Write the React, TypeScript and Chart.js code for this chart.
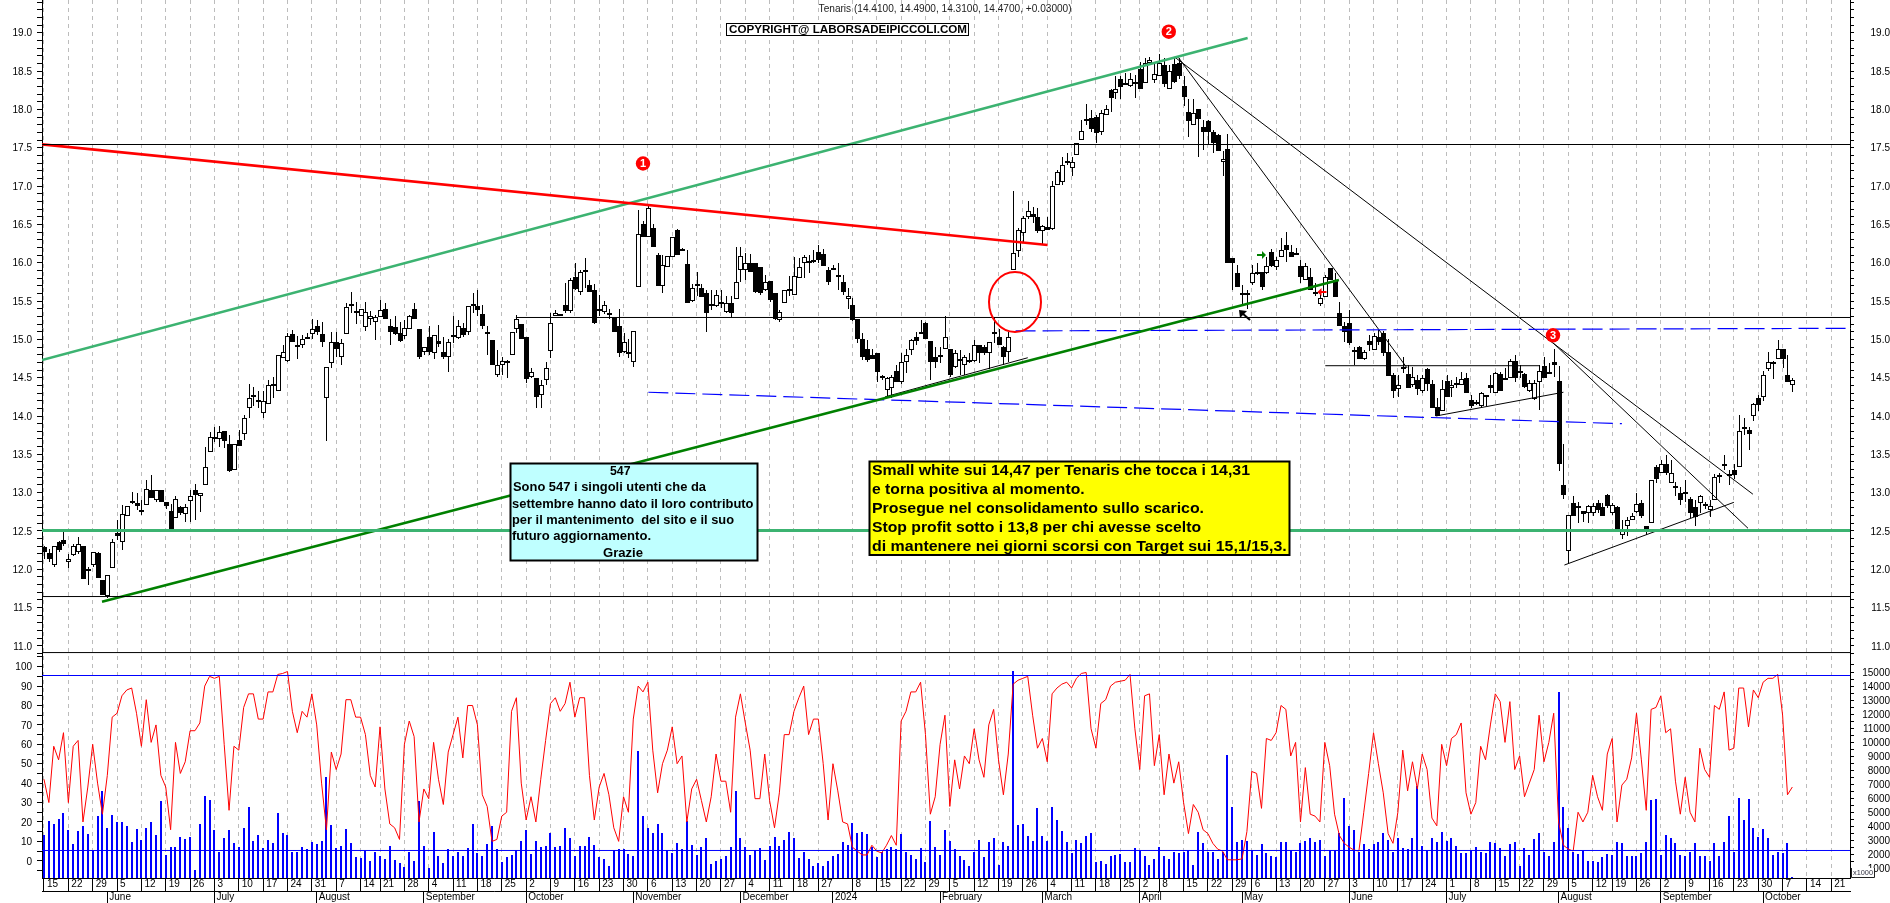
import React, { useEffect, useRef } from "react";
import { Chart, registerables } from "chart.js";

Chart.register(...registerables);

const opens = [
12.29,12.21,12.06,12.36,12.38,12.09,12.19,12.22,12.30,12.01,
12.05,12.21,11.86,11.65,12.02,12.47,12.36,12.69,12.87,12.86,
12.77,12.84,13.04,12.90,13.04,12.88,12.76,12.67,12.81,12.72,
12.89,13.04,12.96,13.10,13.53,13.72,13.70,13.80,13.63,13.30,
13.69,13.77,14.10,14.27,14.21,14.04,14.16,14.42,14.32,14.76,
14.72,15.07,14.93,14.92,15.03,15.07,15.18,15.07,14.24,14.69,
14.97,14.77,15.07,15.46,15.35,15.31,15.16,15.27,15.23,15.29,
15.40,15.17,15.16,15.08,15.05,15.13,15.40,15.13,14.83,15.03,
14.82,14.98,14.84,14.77,15.06,15.02,15.15,15.09,15.46,15.43,
15.33,15.10,14.99,14.53,14.66,14.72,14.80,15.13,15.20,15.03,
14.51,14.49,14.28,14.47,14.85,15.30,15.33,15.45,15.37,15.81,
15.62,15.90,15.71,15.64,15.40,15.36,15.33,15.28,15.17,14.84,
14.84,14.70,15.68,16.51,16.33,16.45,16.10,15.69,15.95,16.08,
16.42,16.16,15.98,15.50,15.72,15.67,15.60,15.46,15.43,15.49,
15.36,15.47,15.53,15.91,15.91,15.99,15.99,15.94,15.64,15.76,
15.60,15.25,15.47,15.66,15.58,15.80,16.00,16.02,16.03,16.14,
16.11,15.90,15.93,15.84,15.75,15.52,15.45,15.27,15.00,14.87,
14.80,14.82,14.52,14.34,14.36,14.59,14.45,14.71,14.86,15.03,
15.10,15.21,14.98,14.77,14.80,14.87,14.88,14.64,14.74,14.66,
14.73,14.72,14.92,14.90,14.82,15.09,15.03,14.90,14.83,15.91,
16.15,16.39,16.59,16.64,16.60,16.41,16.47,16.44,17.01,17.05,
17.33,17.23,17.41,17.60,17.88,17.89,17.90,17.71,17.93,18.25,
18.21,18.40,18.34,18.31,18.36,18.53,18.34,18.60,18.38,18.44,
18.58,18.27,18.59,18.61,18.30,17.97,17.80,18.00,17.77,17.85,
17.70,17.66,17.31,17.48,16.06,15.86,15.61,15.58,15.73,15.88,
15.88,15.86,16.14,15.94,16.07,16.23,16.14,16.12,15.96,15.78,
15.81,15.62,15.46,15.55,15.93,15.78,15.35,15.17,15.21,14.83,
14.90,14.75,14.98,14.86,15.03,15.08,14.84,14.54,14.35,14.64,
14.55,14.40,14.47,14.32,14.61,14.42,14.12,14.06,14.46,14.36,
14.43,14.41,14.49,14.21,14.18,14.13,14.26,14.40,14.30,14.55,
14.50,14.50,14.72,14.59,14.55,14.32,14.22,14.45,14.65,14.57,
14.70,14.46,13.10,12.24,12.87,12.81,12.76,12.74,12.74,12.87,
12.81,12.97,12.73,12.81,12.45,12.57,12.64,12.75,12.86,12.57,
12.60,13.34,13.26,13.38,13.13,13.09,12.99,13.01,12.92,12.81,
12.87,12.85,12.77,12.91,13.21,13.36,13.24,13.30,13.34,13.86,
13.82,14.00,14.23,14.25,14.61,14.71,14.74,14.88,14.53,14.41,
];

const highs = [
12.30,12.27,12.31,12.37,12.50,12.20,12.33,12.42,12.30,12.03,
12.23,12.22,11.86,11.93,12.40,12.64,12.84,12.82,13.01,13.00,
12.90,13.17,13.23,13.04,13.04,12.88,12.85,12.95,12.83,12.85,
13.03,13.11,13.00,13.59,13.79,13.86,13.87,13.81,13.75,13.64,
13.82,14.01,14.42,14.38,14.32,14.33,14.47,14.51,14.80,14.93,
15.08,15.12,15.05,15.06,15.08,15.27,15.25,15.23,14.64,15.09,
15.09,15.00,15.47,15.62,15.49,15.39,15.49,15.37,15.32,15.51,
15.47,15.27,15.30,15.23,15.25,15.32,15.47,15.13,14.90,15.17,
15.06,15.19,15.03,15.00,15.30,15.25,15.21,15.44,15.61,15.65,
15.45,15.17,14.99,14.86,14.77,14.73,15.09,15.32,15.20,15.03,
14.62,14.49,14.47,14.70,15.34,15.38,15.33,15.73,15.80,16.00,
15.91,16.06,15.78,15.72,15.58,15.50,15.40,15.28,15.39,15.08,
15.01,15.11,16.69,16.55,16.75,16.51,16.13,16.10,16.09,16.33,
16.44,16.19,16.17,15.72,15.88,15.72,15.64,15.64,15.64,15.64,
15.57,15.56,16.20,16.20,16.12,16.11,15.99,15.94,15.84,15.76,
15.60,15.38,15.65,15.83,16.08,16.06,16.10,16.10,16.16,16.23,
16.18,15.95,15.97,15.99,15.84,15.67,15.54,15.27,15.08,14.99,
14.88,14.82,14.54,14.51,14.53,14.67,14.82,14.88,15.00,15.10,
15.25,15.23,14.98,14.90,14.90,15.30,14.88,14.86,14.86,14.80,
14.82,14.99,14.93,14.93,14.96,15.29,15.14,14.91,15.10,16.94,
16.45,16.61,16.80,16.73,16.71,16.49,16.60,17.06,17.21,17.38,
17.43,17.38,17.56,17.86,18.07,17.99,17.92,17.99,18.06,18.26,
18.43,18.43,18.47,18.47,18.45,18.62,18.67,18.68,18.60,18.72,
18.67,18.58,18.68,18.67,18.43,18.14,18.14,18.00,17.86,17.86,
17.73,17.68,17.46,17.68,16.06,15.97,15.71,15.65,15.97,16.00,
15.88,16.08,16.18,16.08,16.32,16.40,16.23,16.19,16.04,15.99,
15.93,15.73,15.62,15.84,15.93,15.86,15.49,15.22,15.38,14.90,
14.91,14.86,15.06,15.08,15.12,15.11,15.01,14.56,14.53,14.77,
14.67,14.64,14.53,14.53,14.62,14.47,14.23,14.47,14.53,14.47,
14.51,14.58,14.56,14.28,14.21,14.31,14.28,14.53,14.58,14.58,
14.62,14.75,14.80,14.67,14.56,14.47,14.47,14.67,14.77,14.69,
14.87,14.65,13.63,12.71,12.95,12.88,12.76,12.84,12.86,12.90,
12.86,12.98,12.86,12.82,12.64,12.68,12.73,13.00,12.90,12.57,
13.17,13.36,13.42,13.49,13.42,13.14,13.08,13.16,12.94,12.90,
12.97,12.88,12.90,13.24,13.25,13.49,13.30,13.38,14.01,13.98,
13.86,14.17,14.27,14.59,14.84,14.72,14.99,14.88,14.79,14.49,
];

const lows = [
12.14,12.10,12.03,12.22,12.30,12.02,12.17,12.20,11.88,11.80,
12.03,11.89,11.67,11.63,12.02,12.38,12.25,12.69,12.85,12.77,
12.71,12.84,12.93,12.88,12.88,12.79,12.52,12.67,12.71,12.62,
12.62,12.64,12.75,13.10,13.53,13.66,13.60,13.58,13.27,13.30,
13.61,13.69,13.98,14.13,14.10,13.98,14.16,14.23,14.32,14.76,
14.70,14.96,14.74,14.89,15.00,15.01,15.06,14.90,13.68,14.62,
14.77,14.67,15.07,15.34,15.20,15.31,15.11,15.19,14.99,15.29,
15.26,14.93,15.06,14.97,15.00,15.13,15.27,14.75,14.80,14.80,
14.75,14.90,14.75,14.58,14.95,15.00,15.03,15.06,15.34,15.30,
15.14,14.80,14.67,14.51,14.53,14.50,14.80,15.08,15.00,14.43,
14.49,14.11,14.11,14.40,14.76,15.30,15.30,15.35,15.35,15.64,
15.58,15.67,15.62,15.20,15.30,15.33,15.27,15.10,14.77,14.82,
14.76,14.64,15.68,16.33,16.33,16.20,15.69,15.60,15.95,16.08,
16.10,16.15,15.47,15.49,15.56,15.55,15.10,15.38,15.42,15.41,
15.35,15.29,15.53,15.75,15.78,15.88,15.61,15.58,15.63,15.49,
15.25,15.23,15.47,15.56,15.58,15.80,15.80,15.86,15.99,15.99,
15.96,15.71,15.90,15.64,15.58,15.40,15.24,14.95,14.73,14.70,
14.74,14.44,14.47,14.25,14.23,14.44,14.42,14.56,14.80,14.93,
15.07,15.00,14.47,14.62,14.69,14.87,14.51,14.62,14.53,14.53,
14.69,14.71,14.69,14.80,14.61,14.95,14.93,14.67,14.70,15.91,
16.08,16.27,16.57,16.52,16.39,16.25,16.42,16.43,17.01,17.01,
17.27,17.13,17.41,17.60,17.80,17.71,17.56,17.67,17.93,17.97,
18.14,18.14,18.32,18.29,18.15,18.26,18.34,18.60,18.34,18.44,
18.29,18.27,18.34,18.40,18.04,17.64,17.80,17.38,17.47,17.53,
17.43,17.46,17.13,15.99,15.64,15.68,15.45,15.40,15.71,15.84,
15.64,15.85,15.95,15.90,16.07,16.01,16.07,16.10,15.73,15.78,
15.65,15.56,15.43,15.55,15.78,15.55,15.18,14.97,14.93,14.67,
14.75,14.73,14.85,14.86,14.93,14.78,14.52,14.24,14.25,14.56,
14.37,14.38,14.27,14.30,14.32,14.10,14.00,14.06,14.25,14.25,
14.37,14.40,14.30,14.10,14.14,14.10,14.13,14.30,14.30,14.32,
14.47,14.49,14.45,14.49,14.37,14.31,14.21,14.08,14.50,14.55,
14.51,13.28,12.92,12.08,12.69,12.60,12.62,12.60,12.69,12.74,
12.69,12.80,12.71,12.51,12.40,12.43,12.64,12.73,12.67,12.45,
12.60,13.12,13.26,13.23,13.13,12.95,12.84,12.88,12.67,12.57,
12.74,12.79,12.68,12.90,13.12,13.29,13.10,13.18,13.34,13.75,
13.56,13.93,14.06,14.19,14.59,14.48,14.74,14.62,14.45,14.31,
];

const closes = [
12.22,12.14,12.30,12.25,12.33,12.13,12.30,12.33,11.88,11.99,
12.22,11.89,11.67,11.92,12.35,12.44,12.72,12.82,12.89,12.82,
12.75,13.05,12.93,13.03,12.88,12.82,12.52,12.92,12.74,12.81,
12.96,12.97,13.00,13.34,13.72,13.70,13.79,13.68,13.28,13.64,
13.61,13.98,14.24,14.25,14.19,14.20,14.41,14.40,14.80,14.84,
15.05,14.96,14.92,15.01,15.01,15.13,15.09,14.96,14.64,14.96,
14.88,14.95,15.42,15.44,15.37,15.39,15.36,15.30,15.29,15.38,
15.26,15.10,15.07,14.98,15.15,15.30,15.27,14.77,14.90,14.83,
15.06,14.94,14.77,14.97,15.03,15.17,15.06,15.44,15.44,15.38,
15.17,15.08,14.67,14.67,14.72,14.70,15.09,15.26,15.00,14.48,
14.58,14.25,14.41,14.63,15.21,15.35,15.30,15.37,15.77,15.66,
15.88,15.88,15.62,15.21,15.38,15.45,15.35,15.10,14.82,14.96,
14.83,15.11,16.37,16.33,16.71,16.20,15.69,15.97,16.09,16.33,
16.10,16.18,15.48,15.67,15.70,15.55,15.34,15.44,15.58,15.46,
15.48,15.34,15.75,16.09,15.99,15.88,15.62,15.60,15.75,15.51,
15.27,15.36,15.64,15.64,15.82,15.94,16.08,16.00,16.02,16.03,
15.96,15.75,15.91,15.82,15.62,15.57,15.25,15.01,14.77,14.73,
14.74,14.58,14.50,14.50,14.51,14.44,14.71,14.79,14.99,14.98,
15.08,15.00,14.70,14.71,14.78,15.03,14.53,14.82,14.72,14.77,
14.71,14.93,14.82,14.82,14.96,15.07,14.93,14.77,15.03,16.12,
16.42,16.58,16.68,16.59,16.41,16.48,16.43,17.00,17.18,17.27,
17.31,17.31,17.56,17.72,17.87,17.74,17.69,17.95,18.00,18.15,
18.26,18.29,18.33,18.40,18.35,18.27,18.61,18.64,18.46,18.60,
18.33,18.50,18.36,18.44,18.16,17.85,17.95,17.88,17.71,17.70,
17.56,17.46,17.35,15.99,15.99,15.68,15.59,15.60,15.87,15.86,
15.68,15.96,15.96,16.03,16.16,16.16,16.08,16.10,15.81,15.96,
15.65,15.60,15.54,15.81,15.78,15.55,15.18,15.10,14.95,14.86,
14.75,14.83,14.92,15.04,14.96,14.82,14.52,14.32,14.40,14.62,
14.37,14.51,14.35,14.50,14.42,14.10,14.00,14.35,14.25,14.40,
14.41,14.48,14.30,14.13,14.16,14.30,14.28,14.37,14.56,14.32,
14.49,14.72,14.50,14.57,14.38,14.43,14.43,14.59,14.50,14.55,
14.66,13.38,12.97,12.71,12.69,12.82,12.72,12.82,12.83,12.77,
12.70,12.82,12.84,12.52,12.51,12.64,12.69,12.85,12.70,12.51,
13.17,13.18,13.38,13.26,13.26,13.07,12.90,12.99,12.74,12.68,
12.95,12.83,12.82,13.21,13.23,13.38,13.22,13.23,13.81,13.84,
13.76,14.16,14.14,14.54,14.70,14.69,14.88,14.74,14.45,14.47,
];

const stochastic = [
42,30,59,52,66,30,59,62,20,38,
60,40,24,44,74,76,85,88,89,76,
59,83,61,70,44,38,16,61,45,51,
67,67,71,90,95,94,95,60,26,59,
57,79,86,86,73,73,87,87,96,96.5,
97.5,77,66,77,74,86,70,40,16,56,
47,55,83,83,74,74,65,44,38,69,
37,19,17,11,60,72,64,20,37,32,
61,42,29,56,65,74,53,80,80,70,
34,28,10,11,23,25,77,84,40,21,
33,20,42,62,81,84,77,81,92,74,
84,84,44,21,38,45,34,17,10,33,
25,73,90,87,92,57,35,50,57,69,
50,54,20,37,42,31,20,33,55,41,
41,25,74,86,71,57,32,32,55,31,
17,35,65,65,77,84,90,65,73,73,
50,21,50,36,20,19,7,5,3,3,
8,5,4,8,13,8,72,77,87,87,
92,65,24,33,60,75,28,52,37,54,
50,68,52,43,70,78,52,34,55,91,
93,94,95,75,58,63,51,86,89,91,
92,89,94,96.5,97,68,58,81,83,90,
92,92.5,93,96,68,47,85,86,49,65,
34,55,40,51,30,14,29,25,16,14,
9,6,5,0.5,0.5,0.5,1,15,46,45,
27,63,62,66,80,78,54,61,20,48,
24,23,20,61,49,24,13,9,7,5.5,
5,25,45,66,50,35,14,9,25,57,
36,51,37,55,47,22,18,60,49,63,
65,71,35,24,30,59,52,70,86,82,
61,82,47,54,33,40,47,75,51,61,
76,20,8,6,5,25,20,25,44,33,
26,55,63,20,39,42,53,76,52,26,
78,79,85,66,68,41,24,43,25,20,
58,47,43,80,78,87,57,58,89,89,
69,88,84,92,94,94,96,75,34,38,
];

const volumes = [
3390,4430,4150,4530,4950,3790,2730,3650,4010,3460,
2280,4760,6520,3890,4790,4310,4310,4030,2920,3820,
3030,3930,4310,3370,5810,1940,2540,2540,3290,3100,
3250,900,4170,6160,5880,3790,2180,3200,3790,2820,
2510,3890,5360,2940,3370,2440,3030,2820,4950,3510,
3390,2160,2180,2540,2420,2890,2730,2940,7540,4100,
2440,2610,3820,2820,1820,1750,2280,1540,2160,1900,
1710,2610,1610,1420,1140,2160,1560,5810,2610,1040,
3600,1900,1400,2390,1900,2180,1900,2460,4170,2090,
1900,2750,4030,2390,1470,1820,1970,2320,2960,3790,
2040,2960,2510,2610,3510,2560,2610,3890,3180,1900,
2610,2610,3250,2680,1820,1680,1190,2320,2370,2370,
2040,1900,9390,4760,3890,3560,4150,3510,2320,2130,
2820,2390,4360,2680,2010,2580,3150,1370,1540,1710,
1900,2540,6520,3150,2510,1970,2320,2460,1610,2610,
3250,2610,3030,3580,3180,1730,2180,1680,1190,1420,
1160,1540,1900,2040,2890,2680,4240,3560,3600,3440,
2540,1820,2180,2390,2540,2390,3440,2180,1970,1680,
2460,1450,4430,2540,2010,3790,2940,2370,1870,1590,
1190,2180,3030,1820,2890,3180,1260,2870,2610,15050,
4100,4170,3320,2940,5310,3320,2960,5380,4460,3700,
2890,2130,3030,2800,3320,3530,1450,1560,1370,1900,
2010,2040,1450,1470,2440,2230,1900,1260,1680,2540,
1900,1680,2180,2090,2180,2320,1230,3580,2800,2180,
2180,1680,2180,9080,5380,2890,3030,2960,2300,2010,
2730,2090,1900,1800,2870,2920,2300,2180,2820,2960,
3150,2920,3030,1900,2300,2300,3510,6000,4050,3790,
2200,2750,2390,2750,2920,3510,3030,2180,3180,2440,
2390,3150,6870,2650,2250,3150,2870,3600,2960,3180,
2610,2130,2130,2320,2540,2180,2090,2870,2800,2460,
1870,2730,2870,1160,2440,1990,3080,3560,2180,1900,
2890,13580,5360,3930,2180,2040,2250,1560,1560,1490,
1850,2060,1970,2890,2820,1900,1900,1900,2090,2890,
5880,5950,2010,3410,3150,2800,1970,1870,2160,2820,
1900,1900,1540,2840,1900,2890,4720,2160,6000,4500,
5950,3890,3250,3820,3180,1970,2180,2110,2800,430,
];

const weekTicks = [0,5,10,15,20,25,30,35,40,45,50,55,60,65,69,74,79,84,89,94,99,104,109,114,119,124,129,134,139,144,149,154,159,166,171,176,181,186,191,196,201,206,211,216,221,225,229,234,239,244,248,253,258,263,268,273,278,283,288,293,298,303,308,313,318,322,327,332,337,342,347,352,357,362,367];
const weekLabels = ["15","22","29","5","12","19","26","3","10","17","24","31","7","14","21","28","4","11","18","25","2","9","16","23","30","6","13","20","27","4","11","18","27","8","15","22","29","5","12","19","26","4","11","18","25","2","8","15","22","29","6","13","20","27","3","10","17","24","1","8","15","22","29","5","12","19","26","2","9","16","23","30","7","14","21"];
const monthTicks = [13,35,56,78,99,121,143,162,184,205,225,246,268,288,311,332,353];
const monthLabels = ["June","July","August","September","October","November","December","2024","February","March","April","May","June","July","August","September","October"];

const redResistance = [[-0.41,17.544],[206.08,16.231]];
const tealChannel = [[-0.41,14.73],[247.15,18.93]];
const greenSupport = [[11.91,11.578],[265.9,15.774]];
const blueDashUpper = [[199.5,15.11],[370.84,15.144]];
const blueDashLower = [[124.1,14.31],[324,13.9]];
const fanSteep = [[232.9,18.68],[279.9,14.626]];
const fanWide = [[232.2,18.68],[350.9,12.98]];
const fanThird = [[309.9,14.952],[349.9,12.535]];
const triangleLow = [[312.2,12.056],[347,12.874]];
const triangleMid = [[285.8,14.0],[312,14.31]];
const boxTop = [[263.1,14.656],[307.1,14.656]];
const thinSupport = [[172.7,14.25],[202,14.76]];
const levelHalf = [[96.9,15.285],[370.84,15.285]];
const level1754 = [[-0.41,17.5416],[370.84,17.5416]];
const level1165 = [[-0.41,11.645],[370.84,11.645]];
const level1091 = [[-0.41,10.914],[370.84,10.914]];
const level1251 = [[-0.41,12.5064],[370.84,12.5064]];
const stochHigh = [[-0.41,95.45],[370.84,95.45]];
const stochLow = [[-0.41,5.3],[370.84,5.3]];

const TICK_FONT = { family: '"Liberation Sans",Arial,sans-serif', size: 10 };

const range = (a: number, b: number, s: number) => {
  const o: { value: number }[] = [];
  for (let k = 0; a + k * s <= b + 1e-9; k++) o.push({ value: +(a + k * s).toFixed(3) });
  return o;
};

const priceLabel = (v: number) => {
  const t = Math.round(v * 10);
  return t % 5 === 0 && t >= 110 && t <= 190 ? (t / 10).toFixed(1) : "";
};

const noPad = (s: any) => {
  s.paddingLeft = 0;
  s.paddingRight = 0;
  s.paddingTop = 0;
  s.paddingBottom = 0;
};
const fitW = (w: number) => (s: any) => { s.width = w; noPad(s); };
const fitH = (h: number) => (s: any) => { s.height = h; noPad(s); };

function crispBars(chart: any) {
  chart.getSortedVisibleDatasetMetas().forEach((meta: any) => {
    if (meta.type !== "bar") return;
    const role = chart.data.datasets[meta.index].role;
    meta.data.forEach((el: any) => {
      const rx = Math.round(el.x);
      el.y = Math.round(el.y);
      el.base = Math.round(el.base);
      if (role === "wick") el.x = rx + 0.5;
      else if (role === "body") {
        el.x = rx + 0.5;
        if (Math.abs(el.base - el.y) < 2) el.base = el.y + 2;
      } else el.x = rx;
    });
  });
}

function fitText(ctx: any, text: string, x: number, y: number, w: number, font: string, color = "#000") {
  ctx.save();
  ctx.font = font;
  ctx.fillStyle = color;
  ctx.textBaseline = "middle";
  ctx.textAlign = "left";
  const m = ctx.measureText(text).width;
  ctx.translate(x, y);
  ctx.scale(w / m, 1);
  ctx.fillText(text, 0, 0);
  ctx.restore();
}

function box(ctx: any, x0: number, y0: number, x1: number, y1: number, fill: string, lw: number) {
  ctx.fillStyle = fill;
  ctx.fillRect(x0, y0, x1 - x0, y1 - y0);
  ctx.strokeStyle = "#000";
  ctx.lineWidth = lw;
  ctx.strokeRect(x0, y0, x1 - x0, y1 - y0);
}

const SANS = '"Liberation Sans",Arial,sans-serif';

const overlay = {
  id: "overlay",
  afterDatasetsUpdate: crispBars,
  afterDraw(chart: any) {
    const ctx = chart.ctx;
    ctx.save();
    fitText(ctx, "Tenaris (14.4100, 14.4900, 14.3100, 14.4700, +0.03000)", 818.6, 9, 253, `10px ${SANS}`, "#222");
    box(ctx, 726.5, 23.5, 968.5, 35.5, "#fff", 1);
    fitText(ctx, "COPYRIGHT@ LABORSADEIPICCOLI.COM", 729, 29.5, 238, `bold 11px ${SANS}`);

    ctx.strokeStyle = "#ff0000";
    ctx.lineWidth = 2;
    ctx.beginPath();
    ctx.ellipse(1015, 302, 26, 30, 0, 0, Math.PI * 2);
    ctx.stroke();

    [["1", 643, 163.5], ["2", 1168.8, 31.7], ["3", 1553, 335.3]].forEach(([t, x, y]: any) => {
      ctx.fillStyle = "#ff0000";
      ctx.beginPath();
      ctx.arc(x, y, 7.2, 0, Math.PI * 2);
      ctx.fill();
      ctx.fillStyle = "#fff";
      ctx.font = `bold 11px ${SANS}`;
      ctx.textAlign = "center";
      ctx.textBaseline = "middle";
      ctx.fillText(t, x, y + 0.5);
    });

    box(ctx, 510.5, 463.5, 757.5, 560.5, "#bfffff", 2);
    const cy = `bold 13px ${SANS}`;
    fitText(ctx, "547", 610, 471, 20.5, cy);
    fitText(ctx, "Sono 547 i singoli utenti che da", 513, 487.7, 193, cy);
    fitText(ctx, "settembre hanno dato il loro contributo", 512, 504, 241.5, cy);
    fitText(ctx, "per il mantenimento  del sito e il suo", 512, 520.3, 222, cy);
    fitText(ctx, "futuro aggiornamento.", 512, 536.7, 139, cy);
    fitText(ctx, "Grazie", 603, 553, 40, cy);

    box(ctx, 869.5, 461.5, 1289.5, 555, "#ffff00", 2);
    const yf = `bold 15px ${SANS}`;
    fitText(ctx, "Small white sui 14,47 per Tenaris che tocca i 14,31", 872, 470.7, 378, yf);
    fitText(ctx, "e torna positiva al momento.", 872, 489.7, 212.6, yf);
    fitText(ctx, "Prosegue nel consolidamento sullo scarico.", 872, 508.7, 332, yf);
    fitText(ctx, "Stop profit sotto i 13,8 per chi avesse scelto", 872, 527.7, 329, yf);
    fitText(ctx, "di mantenere nei giorni scorsi con Target sui 15,1/15,3.", 872, 546.7, 414.7, yf);

    const arrow = (x: number, y: number, dir: number, col: string) => {
      ctx.strokeStyle = col;
      ctx.fillStyle = col;
      ctx.lineWidth = 2;
      ctx.beginPath();
      ctx.moveTo(x - 4 * dir, y);
      ctx.lineTo(x + 4 * dir, y);
      ctx.stroke();
      ctx.beginPath();
      ctx.moveTo(x + 5 * dir, y);
      ctx.lineTo(x + 1 * dir, y - 4);
      ctx.lineTo(x + 1 * dir, y + 4);
      ctx.closePath();
      ctx.fill();
    };
    arrow(1261, 255, 1, "#008000");
    arrow(1322.5, 292, -1, "#ff0000");
    ctx.fillStyle = "#000";
    ctx.strokeStyle = "#000";
    ctx.lineWidth = 2;
    ctx.beginPath();
    ctx.moveTo(1239, 310);
    ctx.lineTo(1247, 311);
    ctx.lineTo(1240, 318);
    ctx.closePath();
    ctx.fill();
    ctx.beginPath();
    ctx.moveTo(1242, 313);
    ctx.lineTo(1250, 320);
    ctx.stroke();

    ctx.fillStyle = "#fff";
    ctx.fillRect(1851, 868, 23, 10);
    ctx.strokeStyle = "#222";
    ctx.lineWidth = 1;
    ctx.beginPath();
    ctx.moveTo(1851.5, 868);
    ctx.lineTo(1851.5, 877.5);
    ctx.lineTo(1874.5, 877.5);
    ctx.lineTo(1874.5, 868);
    ctx.stroke();
    fitText(ctx, "x1000", 1853, 873, 20, `8px ${SANS}`, "#334");
    ctx.restore();
  },
};

const line = (pts: number[][], color: string, width: number, yAxisID = "y", dash: number[] = []) => ({
  type: "line" as const,
  data: pts.map(([x, y]) => ({ x, y })),
  borderColor: color,
  borderWidth: width,
  borderDash: dash,
  pointRadius: 0,
  tension: 0,
  yAxisID,
  xAxisID: "x",
  order: 10,
});

export default function App() {
  const ref = useRef<HTMLCanvasElement>(null);
  useEffect(() => {
    if (!ref.current) return;
    const idx = opens.map((_, i) => i);
    const chart = new Chart(ref.current, {
      type: "bar",
      data: {
        datasets: [
          {
            role: "vol",
            label: "Volume",
            data: idx.map((i) => ({ x: i, y: volumes[i] })),
            backgroundColor: "#0000ff",
            barThickness: 2,
            yAxisID: "yv",
            xAxisID: "x",
            order: 60,
            inflateAmount: 0,
            grouped: false,
          },
          {
            role: "wick",
            label: "Range",
            data: idx.map((i) => ({ x: i, y: [lows[i], highs[i]] })),
            backgroundColor: "#000",
            barThickness: 1,
            yAxisID: "y",
            xAxisID: "x",
            order: 50,
            inflateAmount: 0,
            grouped: false,
          },
          {
            role: "body",
            label: "Tenaris",
            data: idx.map((i) => ({ x: i, y: [opens[i], closes[i]] })),
            backgroundColor: idx.map((i) => (closes[i] >= opens[i] ? "#fff" : "#000")),
            borderColor: "#000",
            borderWidth: 1,
            borderSkipped: false,
            barThickness: 5,
            yAxisID: "y",
            xAxisID: "x",
            order: 40,
            inflateAmount: 0,
            grouped: false,
          },
          {
            type: "line",
            label: "Stochastic",
            data: idx.map((i) => ({ x: i, y: stochastic[i] })),
            borderColor: "#ff0000",
            borderWidth: 1,
            pointRadius: 0,
            tension: 0,
            yAxisID: "ys",
            xAxisID: "x",
            order: 30,
          },
          line(level1754, "#000", 1),
          line(level1165, "#000", 1),
          line(level1091, "#000", 1),
          line(levelHalf, "#000", 1),
          line(level1251, "#3cb371", 3),
          line(redResistance, "#ff0000", 2.6),
          line(tealChannel, "#3cb371", 2.6),
          line(greenSupport, "#008000", 2.6),
          line(blueDashUpper, "#0000ff", 1.2, "y", [20, 7]),
          line(blueDashLower, "#0000ff", 1.2, "y", [20, 7]),
          line(fanSteep, "#000", 1),
          line(fanWide, "#000", 1),
          line(fanThird, "#000", 1),
          line(triangleLow, "#000", 1),
          line(triangleMid, "#000", 1),
          line(boxTop, "#000", 1),
          line(thinSupport, "#000", 1),
          line(stochHigh, "#0000ff", 1, "ys"),
          line(stochLow, "#0000ff", 1, "ys"),
        ] as any,
      },
      options: {
        responsive: false,
        animation: false,
        events: [],
        devicePixelRatio: 1,
        layout: { padding: 0 },
        plugins: { legend: { display: false }, tooltip: { enabled: false }, title: { display: false } },
        scales: {
          x: {
            type: "linear",
            position: "bottom",
            weight: 0,
            offset: false,
            min: -0.41,
            max: 370.84,
            afterBuildTicks: (s: any) => { s.ticks = weekTicks.map((value) => ({ value })); },
            afterFit: fitH(13),
            grid: { offset: false, color: "#bcbcbc", tickColor: "#000", tickLength: 13, lineWidth: 1 },
            border: { color: "#000", width: 1, dash: [4, 4] },
            ticks: {
              autoSkip: false, maxRotation: 0, align: "start", labelOffset: 3, padding: -13, color: "#000", font: TICK_FONT,
              callback: (_v: any, i: number) => weekLabels[i],
            },
          },
          xm: {
            type: "linear",
            position: "bottom",
            weight: 1,
            offset: false,
            min: -0.41,
            max: 370.84,
            afterBuildTicks: (s: any) => { s.ticks = monthTicks.map((value) => ({ value })); },
            afterFit: fitH(12),
            grid: { offset: false, drawOnChartArea: false, tickColor: "#000", tickLength: 12 },
            border: { color: "#000", width: 1 },
            ticks: {
              autoSkip: false, maxRotation: 0, align: "start", labelOffset: 2, padding: -12, color: "#000", font: TICK_FONT,
              callback: (_v: any, i: number) => monthLabels[i],
            },
          },
          y: {
            position: "left",
            stack: "L",
            stackWeight: 656,
            weight: 1,
            min: 10.8693,
            max: 19.4266,
            afterBuildTicks: (s: any) => { s.ticks = range(10.9, 19.4, 0.1); },
            afterFit: fitW(42),
            grid: { drawOnChartArea: false, tickColor: "#000", tickLength: 5 },
            border: { color: "#000", width: 1 },
            ticks: { autoSkip: false, padding: 5, labelOffset: 1, color: "#000", font: TICK_FONT, callback: (v: any) => priceLabel(v) },
          },
          ys: {
            position: "left",
            stack: "L",
            stackWeight: 222,
            weight: 0,
            min: -8.87,
            max: 105.5,
            afterBuildTicks: (s: any) => { s.ticks = range(-5, 105, 5); },
            afterFit: fitW(42),
            grid: { drawOnChartArea: false, tickColor: "#000", tickLength: 5 },
            border: { color: "#000", width: 1 },
            ticks: {
              autoSkip: false, padding: 5, labelOffset: 1, color: "#000", font: TICK_FONT,
              callback: (v: any) => (v >= 0 && v <= 100 && v % 10 === 0 ? String(v) : ""),
            },
          },
          yr: {
            position: "right",
            stack: "R",
            stackWeight: 656,
            weight: 0,
            min: 10.8693,
            max: 19.4266,
            afterBuildTicks: (s: any) => { s.ticks = range(10.9, 19.4, 0.1); },
            afterFit: fitW(40),
            grid: { drawOnChartArea: false, tickColor: "#000", tickLength: 4 },
            border: { color: "#000", width: 1 },
            ticks: { autoSkip: false, padding: 15, labelOffset: 1, crossAlign: "far", color: "#000", font: TICK_FONT, callback: (v: any) => priceLabel(v) },
          },
          yv: {
            position: "right",
            stack: "R",
            stackWeight: 222,
            weight: 1,
            min: 338,
            max: 16139,
            afterBuildTicks: (s: any) => { s.ticks = range(500, 15500, 500); },
            afterFit: fitW(40),
            grid: { drawOnChartArea: false, tickColor: "#000", tickLength: 4 },
            border: { color: "#000", width: 1 },
            ticks: {
              autoSkip: false, padding: 5, labelOffset: 1, crossAlign: "far", color: "#000", font: TICK_FONT,
              callback: (v: any) => (v % 1000 === 0 && v <= 15000 ? String(v) : ""),
            },
          },
        },
      } as any,
      plugins: [overlay],
    });
    return () => chart.destroy();
  }, []);
  return (
    <div style={{ position: "fixed", left: 0, top: 0, width: 1890, height: 903, background: "#fff" }}>
      <canvas ref={ref} width={1890} height={903} style={{ display: "block" }} />
    </div>
  );
}
